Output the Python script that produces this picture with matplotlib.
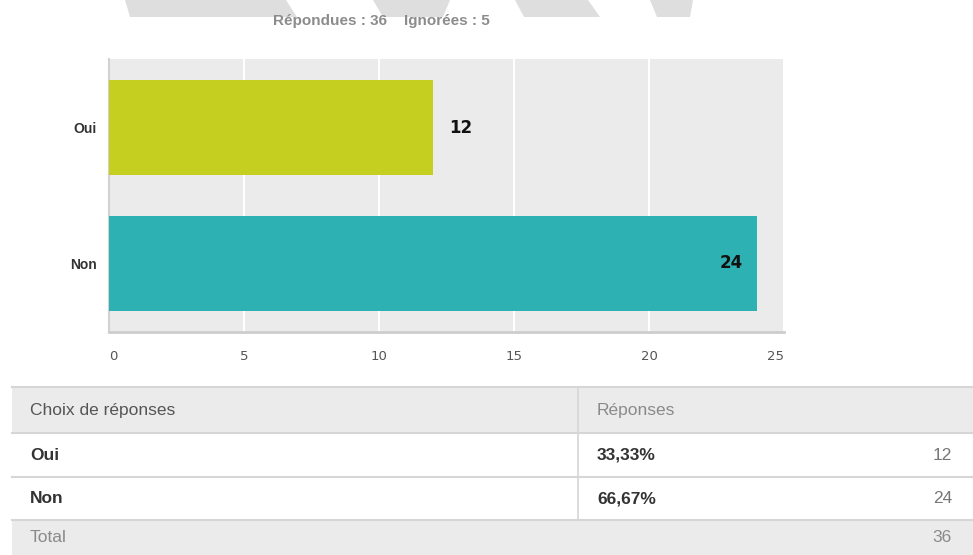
import matplotlib.pyplot as plt
from matplotlib.patches import Rectangle, Polygon

# données de la question
choix = ['Oui', 'Non']
reponses = [12, 24]
pourcentages = ['33,33%', '66,67%']
total = 36
ignorees = 5
couleurs = ['#c5cf1f', '#2db1b2']

W, H = 973, 555
narrow = ['Liberation Sans Narrow', 'Liberation Sans', 'DejaVu Sans']

fig = plt.figure(figsize=(W / 100, H / 100), dpi=100)

# calque de fond en pixels (filigrane + tableau)
bg = fig.add_axes([0, 0, 1, 1])
bg.set_xlim(0, W)
bg.set_ylim(H, 0)
bg.axis('off')

# restes du filigrane en haut
formes = [
    [(125, 0), (286, 0), (297, 17), (130, 17)],
    [(373, 0), (450, 0), (443, 17), (383, 17)],
    [(515, 0), (588, 0), (600, 17), (524, 17)],
    [(650, 0), (693, 0), (690, 17), (657, 17)],
]
for f in formes:
    bg.add_patch(Polygon(f, closed=True, color='#dedede', lw=0))

bg.text(273, 21, f'Répondues : {total}    Ignorées : {ignorees}', family=narrow,
        fontsize=11, fontweight='bold', color='#8c8c8c', va='center', ha='left')

# graphique en barres
ax = fig.add_axes([109 / W, 1 - 332 / H, 675 / W, 273 / H])
ax.set_facecolor('#ebebeb')
y = [1, 0]
ax.barh(y, reponses, height=0.7, color=couleurs, zorder=3)
ax.set_xlim(0, 25)
ax.set_ylim(-0.504, 1.504)
ax.set_xticks([0, 5, 10, 15, 20, 25])
ax.set_yticks(y)
ax.set_yticklabels(choix, family=narrow, fontweight='bold', fontsize=10, color='#333333')
ax.tick_params(axis='x', length=0, pad=13, labelsize=9.5, labelcolor='#555555')
ax.tick_params(axis='y', length=0, pad=9)
xlabels = ax.get_xticklabels()
xlabels[0].set_horizontalalignment('left')
xlabels[-1].set_horizontalalignment('right')
ax.grid(axis='x', color='white', lw=1.5, zorder=1)
for s in ['top', 'right']:
    ax.spines[s].set_visible(False)
ax.spines['left'].set_color('#d2d2d2')
ax.spines['left'].set_linewidth(1.5)
ax.spines['bottom'].set_color('#cdcdcd')
ax.spines['bottom'].set_linewidth(2)

for yi, v in zip(y, reponses):
    if v < 20:
        ax.annotate(str(v), (v, yi), xytext=(12, 0), textcoords='offset points',
                    ha='left', va='center', fontsize=12, fontweight='bold', color='#111111', zorder=4)
    else:
        ax.annotate(str(v), (v, yi), xytext=(-10, 0), textcoords='offset points',
                    ha='right', va='center', fontsize=12, fontweight='bold', color='#111111', zorder=4)

# tableau des réponses
x0, xc, x1 = 12, 578, W
lignes = [387, 433, 477, 520, 555]
bord = '#d6d6d6'
bg.add_patch(Rectangle((x0, lignes[0]), x1 - x0, lignes[1] - lignes[0], color='#ebebeb', lw=0))
bg.add_patch(Rectangle((x0, lignes[3]), x1 - x0, lignes[4] - lignes[3], color='#ebebeb', lw=0))
for yl in lignes[:4]:
    bg.plot([x0, x1], [yl, yl], color=bord, lw=1.5)
bg.plot([xc, xc], [lignes[0], lignes[3]], color=bord, lw=1.2)

def milieu(i):
    return (lignes[i] + lignes[i + 1]) / 2

fs = 12.5
bg.text(30, milieu(0), 'Choix de réponses', family=narrow, fontsize=fs, color='#555555', va='center')
bg.text(597, milieu(0), 'Réponses', family=narrow, fontsize=fs, color='#8a8a8a', va='center')
for i, (c, p, n) in enumerate(zip(choix, pourcentages, reponses), start=1):
    bg.text(30, milieu(i), c, family=narrow, fontsize=fs, fontweight='bold', color='#333333', va='center')
    bg.text(597, milieu(i), p, family=narrow, fontsize=fs, fontweight='bold', color='#333333', va='center')
    bg.text(952, milieu(i), str(n), family=narrow, fontsize=fs, color='#777777', va='center', ha='right')
bg.text(30, milieu(3), 'Total', family=narrow, fontsize=fs, color='#8a8a8a', va='center')
bg.text(952, milieu(3), str(total), family=narrow, fontsize=fs, color='#8a8a8a', va='center', ha='right')

fig.savefig('out.png', dpi=100)
